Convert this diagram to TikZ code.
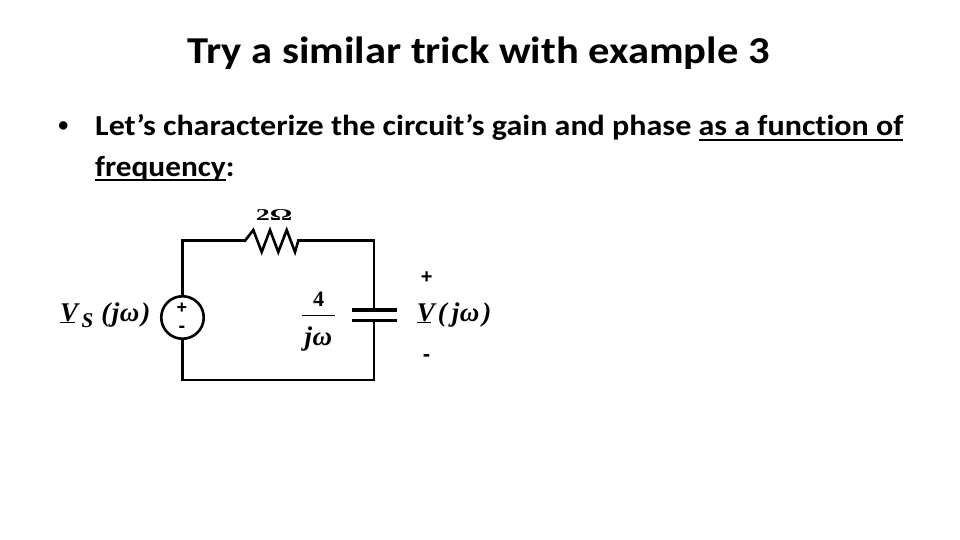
\documentclass[tikz,border=0pt]{standalone}
\usepackage{fontspec}
\usetikzlibrary{calc}
\setmainfont{Carlito}[Ligatures={NoCommon}]
\newfontfamily\tms{Liberation Serif}
\newfontfamily\arl{Liberation Sans}
\newcommand\myul[1]{\setbox0\hbox{#1}\rlap{\rule[-5.4pt]{\wd0}{2.7pt}}\box0}
\newcommand\ulV{\setbox0\hbox{V}\rlap{\rule[-2.4pt]{0.8\wd0}{1.3pt}}\box0}
\tikzset{
  wire/.style={line width=2.6pt, line cap=rect},
  plate/.style={line width=3.2pt},
  lbl/.style={font=\tms\bfseries\itshape\fontsize{27}{29}\selectfont, inner sep=0pt},
  sgn/.style={font=\arl\bfseries\fontsize{20}{22}\selectfont, inner sep=0pt},
  title/.style={font=\bfseries\fontsize{38}{42}\selectfont, inner sep=0pt, anchor=base},
  body/.style={font=\bfseries\fontsize{29}{33}\selectfont, inner sep=0pt, anchor=base west}
}
\begin{document}
\begin{tikzpicture}[x=1pt,y=-1pt]
\useasboundingbox (0,0) rectangle (960,540);
\fill[white] (0,0) rectangle (960,540);
% title
\node[title] (ttl) at (478.7,63.5) {\scalebox{1.12}[1]{Try a similar trick with example 3}};
% bullet
\node[body, anchor=center, font=\bfseries\fontsize{20}{22}\selectfont] (bul) at (63.3,126.7) {•};
\node[body] (l1) at (95,136) {\scalebox{1.105}[1]{Let’s characterize the circuit’s gain and phase \myul{as a function of}}};
\node[body] (l2) at (95,176) {\scalebox{1.08}[1]{\myul{frequency}:}};
% circuit coordinates
\coordinate (tl) at (182.5,240.7);
\coordinate (bl) at (182.5,380);
\coordinate (tr) at (374,240.7);
\coordinate (br) at (374,380);
\coordinate (r1) at (245,240.7);
\coordinate (r2) at (298.3,240.7);
\coordinate (ct) at (374,310);
\coordinate (cb) at (374,320.5);
\node[draw, circle, line width=2.6pt, minimum size=42.5pt, inner sep=0pt] (src) at (182.5,317.5) {};
% wires
\draw[wire] (src.north) -- (tl) -- (r1);
\draw[wire, line join=miter] (r1) -- ++(8.3,-10.7) -- ++(8.4,22) -- ++(8.3,-22) -- ++(8.3,22) -- ++(8.4,-22) -- ++(8.3,22) -- (r2);
\draw[wire] (r2) -- (tr) -- (ct);
\draw[wire] (cb) -- (br) -- (bl) -- (src.south);
% capacitor plates
\draw[plate] ($(ct)+(-22,0)$) -- ($(ct)+(23,0)$);
\draw[plate] ($(cb)+(-22,0)$) -- ($(cb)+(23,0)$);
% source signs
\node[sgn, font=\arl\bfseries\fontsize{18}{20}\selectfont] (sp) at (182,308.7) {+};
\node[sgn, font=\arl\bfseries\fontsize{20}{22}\selectfont] (sm) at (182,329) {-};
% labels
\node[lbl, anchor=base west] (vs) at (60,321) {\ulV\kern3.5pt{\fontsize{21}{23}\selectfont\raisebox{-6pt}{S}}\kern8pt(\kern1.5pt j\kern0.5ptω\kern2pt)};
\node[lbl, anchor=base] (rl) at (274,220.7) {\scalebox{1.7}[1]{\fontsize{16.5}{18}\selectfont\upshape 2Ω}};
\node[lbl, anchor=base] (num) at (318.5,306.7) {\fontsize{22}{24}\selectfont\upshape 4};
\draw[line width=1.2pt] (302,315.7) -- (335,315.7);
\node[lbl, anchor=base] (den) at (318.5,345) {j\kern0.5ptω};
\node[sgn] (vp) at (426.7,277.3) {+};
\node[sgn, font=\arl\bfseries\fontsize{22}{24}\selectfont] (vm) at (426.5,358.3) {-};
\node[lbl, anchor=base west] (vo) at (416.7,321) {\ulV\kern3pt(\kern5pt j\kern0.5ptω\kern3pt)};
\end{tikzpicture}
\end{document}
